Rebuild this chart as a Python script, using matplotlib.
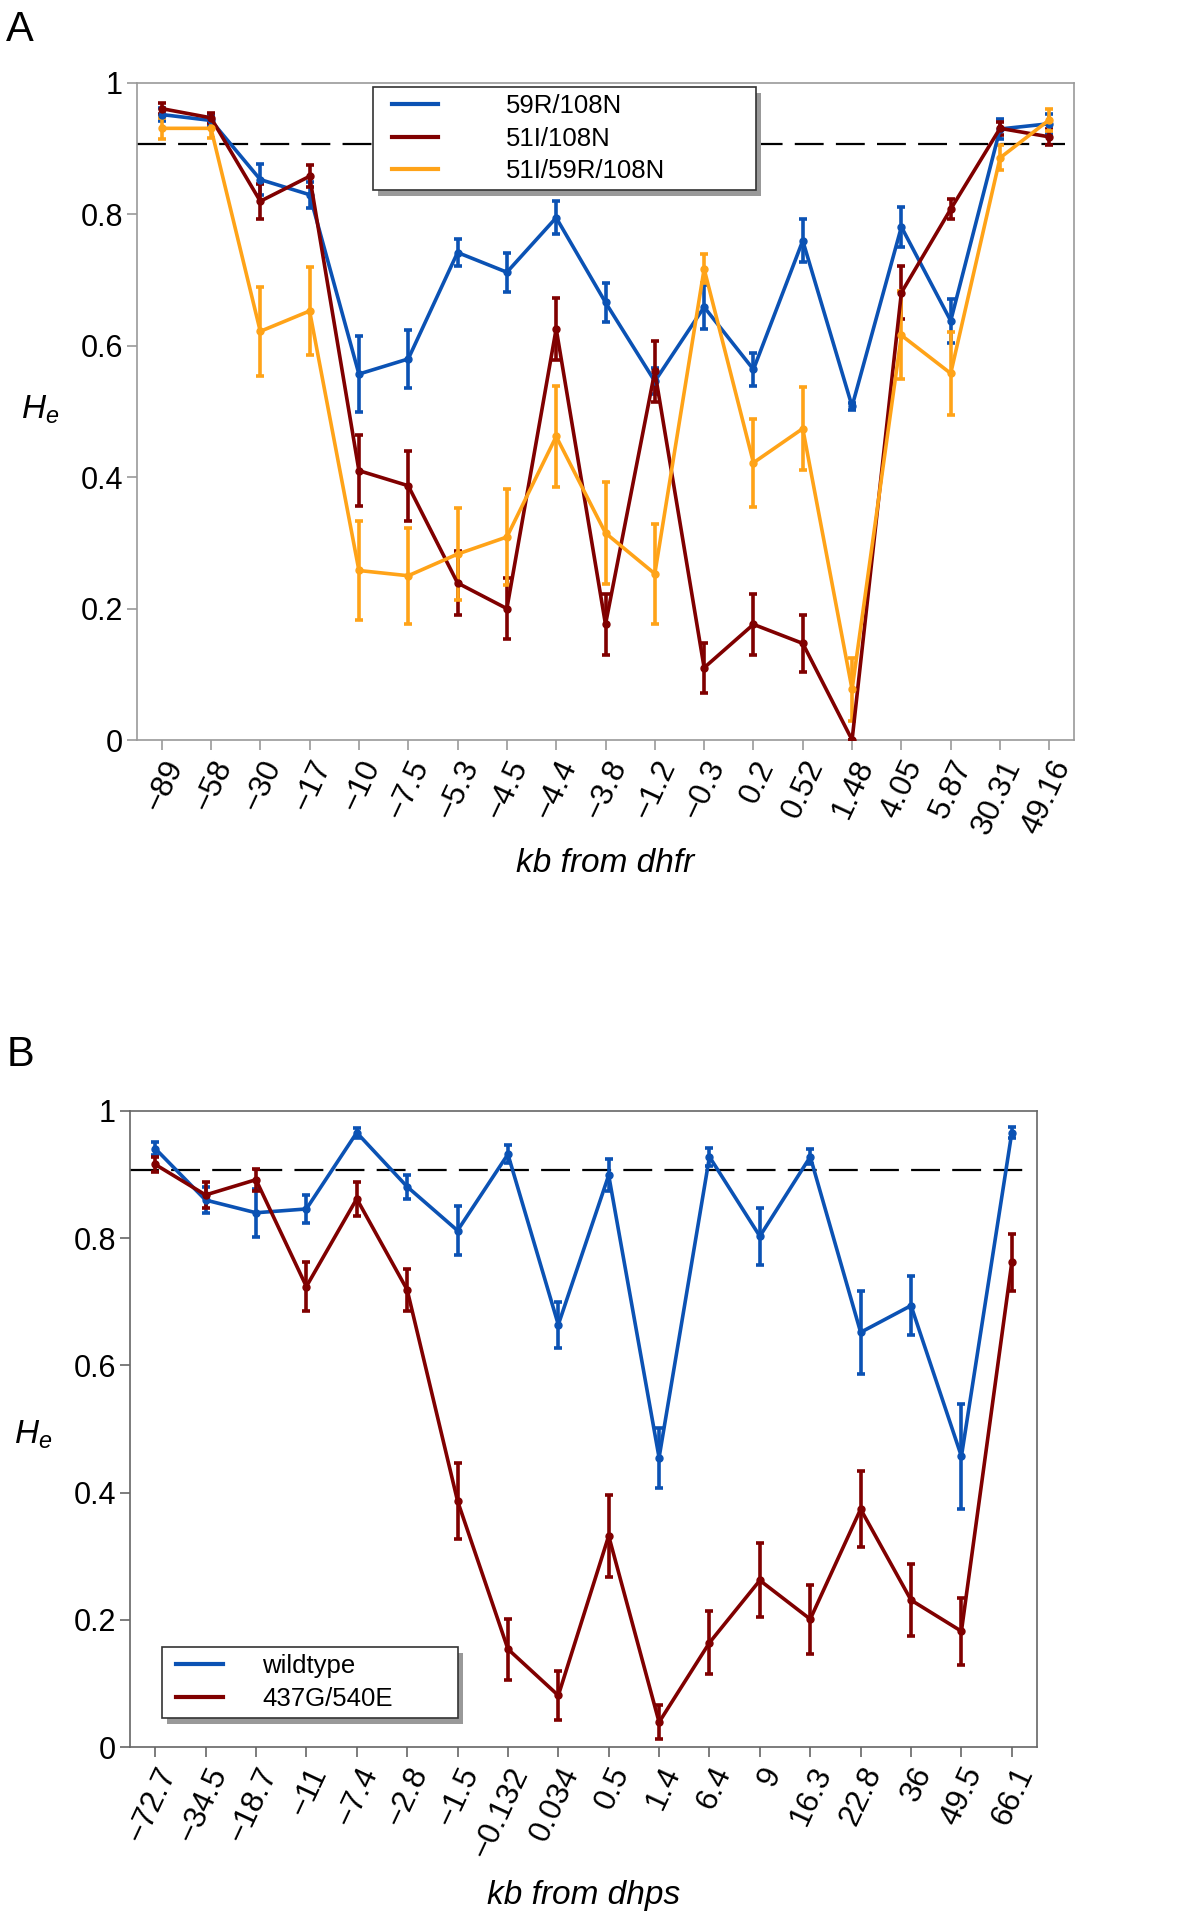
import matplotlib
matplotlib.use("Agg")
import matplotlib.pyplot as plt
from matplotlib.lines import Line2D
from matplotlib.legend_handler import HandlerLine2D
from matplotlib.patches import Rectangle
import numpy as np

plt.rcParams['font.family'] = ['Liberation Sans', 'DejaVu Sans']
plt.rcParams['mathtext.fontset'] = 'custom'
plt.rcParams['mathtext.rm'] = 'Liberation Sans'
plt.rcParams['mathtext.it'] = 'Liberation Sans:italic'

# ---------------- Panel A data (dhfr) ----------------
labels_a = ["\u221289", "\u221258", "\u221230", "\u221217", "\u221210", "\u22127.5",
            "\u22125.3", "\u22124.5", "\u22124.4", "\u22123.8", "\u22121.2", "\u22120.3",
            "0.2", "0.52", "1.48", "4.05", "5.87", "30.31", "49.16"]

a_59R_108N = [0.952, 0.943, 0.853, 0.830, 0.557, 0.580, 0.742, 0.712, 0.795, 0.666,
              0.546, 0.659, 0.564, 0.760, 0.508, 0.781, 0.638, 0.930, 0.938]
a_59R_108N_err = [0.010, 0.008, 0.023, 0.020, 0.058, 0.044, 0.020, 0.030, 0.025, 0.030,
                  0.020, 0.033, 0.025, 0.033, 0.005, 0.030, 0.033, 0.015, 0.015]

a_51I_108N = [0.961, 0.947, 0.820, 0.858, 0.410, 0.387, 0.239, 0.200, 0.626, 0.176,
              0.561, 0.110, 0.176, 0.147, 0.000, 0.681, 0.808, 0.931, 0.918]
a_51I_108N_err = [0.008, 0.008, 0.027, 0.017, 0.054, 0.053, 0.048, 0.047, 0.047, 0.046,
                  0.046, 0.038, 0.046, 0.044, 0.000, 0.040, 0.015, 0.010, 0.012]

a_51I_59R_108N = [0.931, 0.931, 0.622, 0.653, 0.258, 0.250, 0.283, 0.309, 0.462, 0.315,
                  0.253, 0.717, 0.422, 0.474, 0.077, 0.616, 0.558, 0.886, 0.944]
a_51I_59R_108N_err = [0.016, 0.015, 0.068, 0.067, 0.075, 0.073, 0.070, 0.073, 0.077, 0.078,
                      0.076, 0.022, 0.067, 0.063, 0.048, 0.067, 0.063, 0.019, 0.017]

# ---------------- Panel B data (dhps) ----------------
labels_b = ["\u221272.7", "\u221234.5", "\u221218.7", "\u221211", "\u22127.4", "\u22122.8",
            "\u22121.5", "\u22120.132", "0.034", "0.5", "1.4", "6.4", "9", "16.3",
            "22.8", "36", "49.5", "66.1"]

b_wildtype = [0.941, 0.860, 0.840, 0.846, 0.966, 0.881, 0.812, 0.932, 0.664, 0.899,
              0.455, 0.928, 0.803, 0.928, 0.652, 0.694, 0.457, 0.966]
b_wildtype_err = [0.010, 0.020, 0.038, 0.022, 0.008, 0.019, 0.038, 0.014, 0.036, 0.025,
                  0.047, 0.014, 0.045, 0.012, 0.065, 0.046, 0.083, 0.009]

b_437G_540E = [0.916, 0.868, 0.892, 0.724, 0.862, 0.719, 0.387, 0.154, 0.081, 0.332,
               0.039, 0.164, 0.262, 0.201, 0.374, 0.231, 0.182, 0.762]
b_437G_540E_err = [0.012, 0.021, 0.017, 0.038, 0.027, 0.033, 0.060, 0.048, 0.038, 0.064,
                   0.027, 0.050, 0.058, 0.054, 0.060, 0.057, 0.053, 0.045]

threshold = 0.907
yticks = [0, 0.2, 0.4, 0.6, 0.8, 1.0]
ytick_labels = ["0", "0.2", "0.4", "0.6", "0.8", "1"]

BLUE = '#0B52B4'
RED = '#800000'
ORANGE = '#FFA318'

W, H = 1200, 1926
fig = plt.figure(figsize=(W / 100, H / 100), dpi=100)


def axes_px(left, top, right, bottom):
    return fig.add_axes([left / W, 1 - bottom / H, (right - left) / W, (bottom - top) / H])


def style_axes(ax, labels, spine_color):
    n = len(labels)
    ax.set_xlim(-0.5, n - 0.5)
    ax.set_ylim(0, 1)
    ax.set_xticks(np.arange(n))
    ax.set_xticklabels(labels, rotation=65, ha='right', va='top',
                       rotation_mode='anchor', fontsize=22.5)
    ax.set_yticks(yticks)
    ax.set_yticklabels(ytick_labels, fontsize=22)
    for s in ax.spines.values():
        s.set_color(spine_color)
        s.set_linewidth(1.2)
    ax.tick_params(axis='both', direction='out', length=7, width=1.2, color=spine_color,
                   labelcolor='black')
    ax.tick_params(axis='x', pad=4)
    ax.tick_params(axis='y', pad=3)
    ax.axhline(threshold, xmin=0, xmax=0.99, color='black', lw=1.6,
               dashes=(13, 5.5), zorder=1)


def series(ax, x, y, e, color, label):
    ax.errorbar(x, y, yerr=e, color=color, lw=2.6, marker='o', markersize=5,
                capsize=3.2, capthick=2.6, elinewidth=2.6, label=label, zorder=3)


def make_legend(ax, colors, names, bbox, hlen, xpad, htpad):
    handles = [Line2D([], [], color=c, lw=3.0) for c in colors]
    leg = ax.legend(handles, names, loc='upper left', bbox_to_anchor=bbox, mode='expand',
                    fontsize=18.5, frameon=True, fancybox=False, shadow=False,
                    handlelength=hlen, handletextpad=htpad, borderpad=0.28,
                    labelspacing=0.33, borderaxespad=0, framealpha=1,
                    handler_map={Line2D: HandlerLine2D(xpad=xpad)})
    leg.get_frame().set_edgecolor('#333333')
    leg.get_frame().set_linewidth(1.2)
    leg.set_zorder(10)
    return leg


# ---------------- Panel A ----------------
axA = axes_px(137, 83, 1074, 740)
xa = np.arange(len(labels_a))
series(axA, xa, a_59R_108N, a_59R_108N_err, BLUE, "59R/108N")
series(axA, xa, a_51I_108N, a_51I_108N_err, RED, "51I/108N")
series(axA, xa, a_51I_59R_108N, a_51I_59R_108N_err, ORANGE, "51I/59R/108N")
style_axes(axA, labels_a, '#9a9a9a')
legA = make_legend(axA, (BLUE, RED, ORANGE), ["59R/108N", "51I/108N", "51I/59R/108N"],
                   (0.2519, 0.5, 0.4088, 0.4939), 2.25, 0.46, 2.65)

fig.text(20 / W, 1 - 30 / H, "A", fontsize=30, ha='center', va='center')
fig.text(40 / W, 1 - 410 / H, r"$H_e$", fontsize=24, ha='center', va='center')
fig.text(605 / W, 1 - 863 / H, "kb from dhfr", fontsize=24, style='italic',
         ha='center', va='center')

# ---------------- Panel B ----------------
axB = axes_px(130, 1111, 1037, 1747)
xb = np.arange(len(labels_b))
series(axB, xb, b_wildtype, b_wildtype_err, BLUE, "wildtype")
series(axB, xb, b_437G_540E, b_437G_540E_err, RED, "437G/540E")
style_axes(axB, labels_b, '#666666')
legB = make_legend(axB, (BLUE, RED), ["wildtype", "437G/540E"],
                   (0.0353, 0.0, 0.3264, 0.1572), 2.09, 0.26, 1.52)

fig.text(20 / W, 1 - 1055 / H, "B", fontsize=30, ha='center', va='center')
fig.text(33 / W, 1 - 1435 / H, r"$H_e$", fontsize=24, ha='center', va='center')
fig.text(584 / W, 1 - 1895 / H, "kb from dhps", fontsize=24, style='italic',
         ha='center', va='center')

# legend drop shadows (offset grey boxes behind the legend frames)
fig.canvas.draw()
for ax, leg in ((axA, legA), (axB, legB)):
    bb = leg.get_frame().get_window_extent()
    ax.add_patch(Rectangle((bb.x0 + 5, bb.y0 - 6), bb.width, bb.height, transform=None,
                           facecolor='#999999', edgecolor='none', zorder=9, clip_on=False))

fig.savefig("out.png", dpi=100, facecolor='white')
